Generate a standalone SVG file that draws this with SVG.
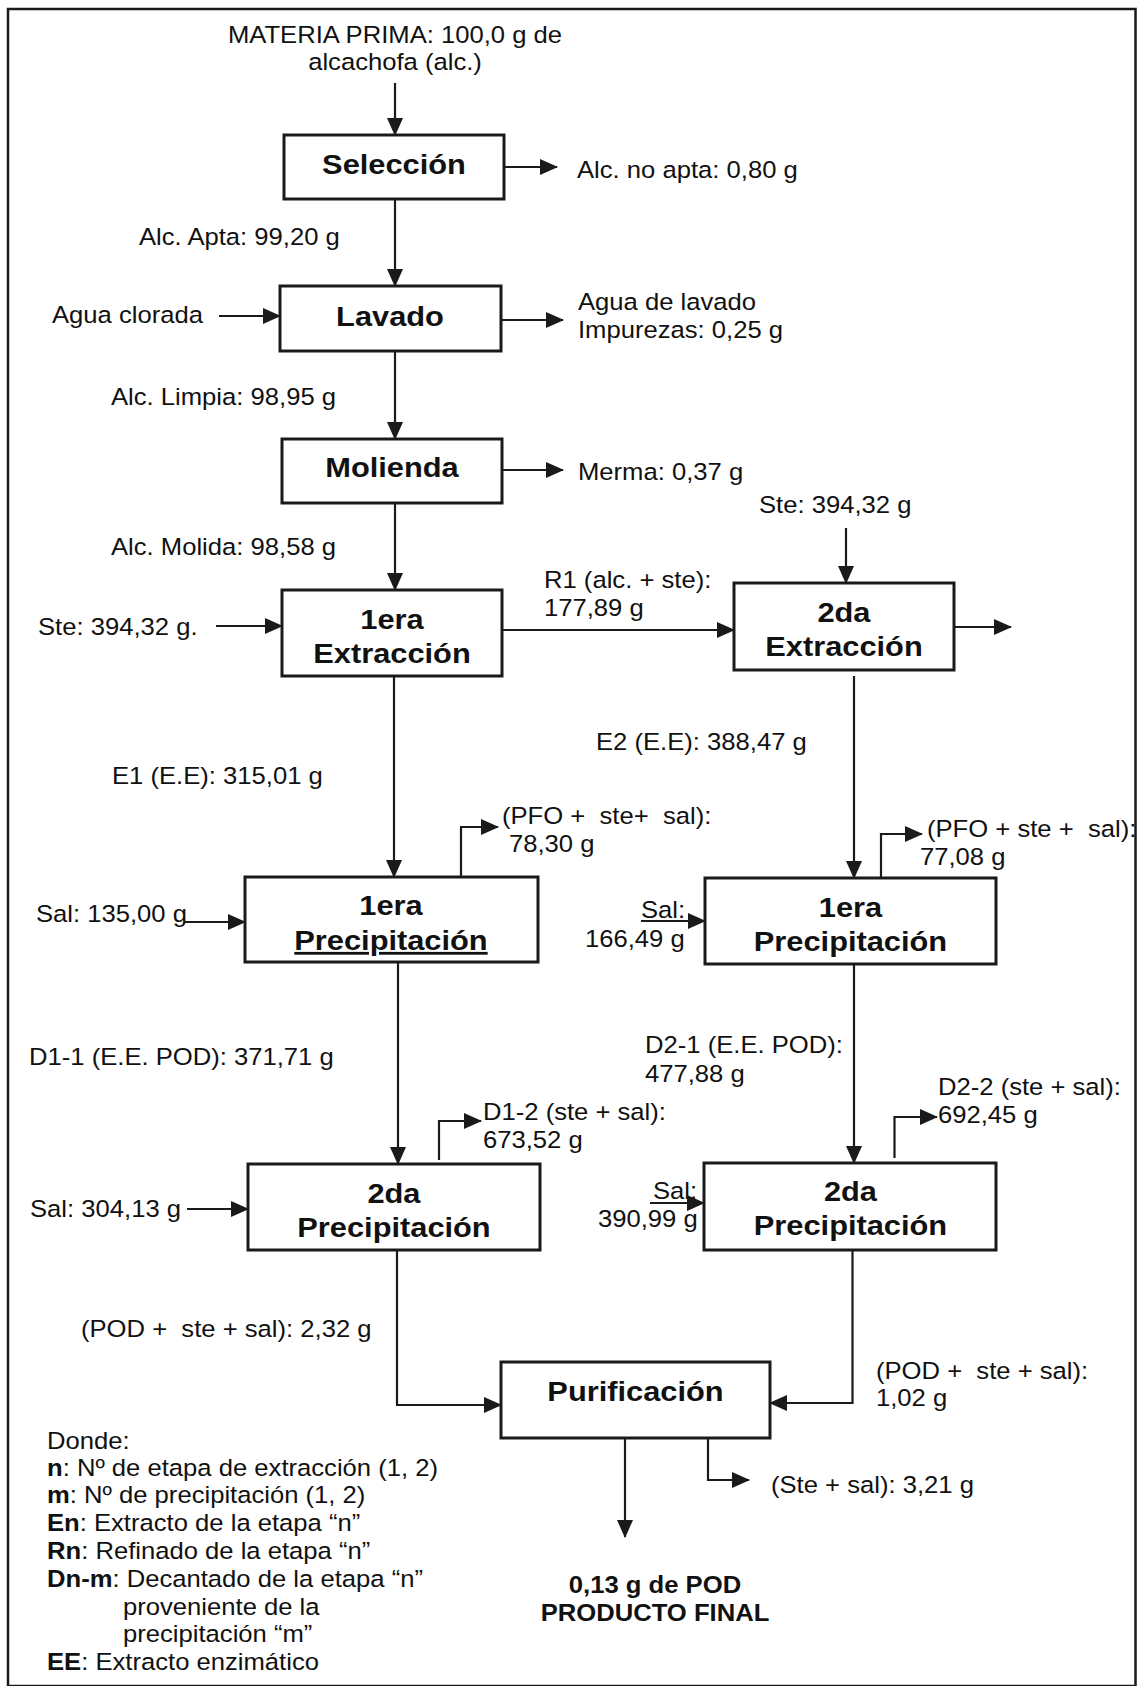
<svg xmlns="http://www.w3.org/2000/svg" width="1139" height="1686" viewBox="0 0 1139 1686">
<style>
.t{font-family:"Liberation Sans",Arial,Helvetica,sans-serif;font-size:23.3px;fill:#111;white-space:pre;transform:scaleX(1.1);transform-box:fill-box;transform-origin:0 0}
.c{text-anchor:middle;transform-origin:50% 0}
.b{font-weight:bold}
.n{font-size:28px}
.u{text-decoration:underline}
.box{fill:#fff;stroke:#1a1a1a;stroke-width:3}
.ln{fill:none;stroke:#1a1a1a;stroke-width:2.2}
.ar{marker-end:url(#ah)}
</style>
<defs>
<marker id="ah" markerUnits="userSpaceOnUse" markerWidth="18" markerHeight="16" viewBox="0 0 18 16" refX="17" refY="8" orient="auto"><path d="M0,0 L18,8 L0,16 z" fill="#1a1a1a"/></marker>
</defs>
<rect width="1139" height="1686" fill="#fff"/>
<rect id="frame" x="8" y="9" width="1127.5" height="1677" fill="none" stroke="#1a1a1a" stroke-width="2.5"/>

<g id="connectors">
<path class="ln ar" d="M395,83 V135"/>
<path class="ln ar" d="M395,199 V286"/>
<path class="ln ar" d="M504,167 H557"/>
<path class="ln ar" d="M219,316 H280"/>
<path class="ln ar" d="M501,320 H563"/>
<path class="ln ar" d="M395,351 V439"/>
<path class="ln ar" d="M502,470 H563"/>
<path class="ln ar" d="M395,503 V590"/>
<path class="ln ar" d="M216,626 H282"/>
<path class="ln ar" d="M502,630 H734"/>
<path class="ln ar" d="M846,528 V583"/>
<path class="ln ar" d="M953,627 H1011"/>
<path class="ln ar" d="M854,676 V878"/>
<path class="ln ar" d="M394,676 V877"/>
<path class="ln ar" d="M184,922 H245"/>
<path class="ln ar" d="M461,877 V827 H498"/>
<path class="ln ar" d="M641,921 H705"/>
<path class="ln ar" d="M881,878 V834 H922"/>
<path class="ln ar" d="M398,962 V1164"/>
<path class="ln ar" d="M854,964 V1163"/>
<path class="ln ar" d="M439,1160 V1121 H481"/>
<path class="ln ar" d="M894.5,1158 V1117 H937"/>
<path class="ln ar" d="M187,1209 H248"/>
<path class="ln ar" d="M650,1203 H704"/>
<path class="ln ar" d="M397,1250 V1405 H501"/>
<path class="ln ar" d="M852.5,1250 V1403 H770"/>
<path class="ln ar" d="M625,1438 V1537"/>
<path class="ln ar" d="M708,1438 V1480 H749"/>
</g>

<g id="n-seleccion"><rect class="box" x="284" y="135" width="220" height="64"/><text class="t c b n" x="394" y="174">Selección</text></g>
<g id="n-lavado"><rect class="box" x="280" y="286" width="221" height="65"/><text class="t c b n" x="390" y="326">Lavado</text></g>
<g id="n-molienda"><rect class="box" x="282" y="439" width="220" height="64"/><text class="t c b n" x="392" y="477">Molienda</text></g>
<g id="n-ext1"><rect class="box" x="282" y="590" width="220" height="86"/><text class="t c b n" x="392" y="629">1era</text><text class="t c b n" x="392" y="663">Extracción</text></g>
<g id="n-ext2"><rect class="box" x="734" y="583" width="220" height="87"/><text class="t c b n" x="844" y="622">2da</text><text class="t c b n" x="844" y="656">Extracción</text></g>
<g id="n-prec11"><rect class="box" x="245" y="877" width="293" height="85"/><text class="t c b n" x="391" y="915">1era</text><text class="t c b n u" x="391" y="950">Precipitación</text></g>
<g id="n-prec21"><rect class="box" x="705" y="878" width="291" height="86"/><text class="t c b n" x="850.5" y="917">1era</text><text class="t c b n" x="850.5" y="951">Precipitación</text></g>
<g id="n-prec12"><rect class="box" x="248" y="1164" width="292" height="86"/><text class="t c b n" x="394" y="1203">2da</text><text class="t c b n" x="394" y="1237">Precipitación</text></g>
<g id="n-prec22"><rect class="box" x="704" y="1163" width="292" height="87"/><text class="t c b n" x="850.5" y="1201">2da</text><text class="t c b n" x="850.5" y="1235">Precipitación</text></g>
<g id="n-purif"><rect class="box" x="501" y="1362" width="269" height="76"/><text class="t c b n" x="635.5" y="1401">Purificación</text></g>

<g id="labels">
<text class="t c" x="395" y="43">MATERIA PRIMA: 100,0 g de</text>
<text class="t c" x="395" y="70">alcachofa (alc.)</text>
<text class="t" x="577" y="178">Alc. no apta: 0,80 g</text>
<text class="t" x="139" y="245">Alc. Apta: 99,20 g</text>
<text class="t" x="52" y="323">Agua clorada</text>
<text class="t" x="578" y="310">Agua de lavado</text>
<text class="t" x="578" y="338">Impurezas: 0,25 g</text>
<text class="t" x="111" y="405">Alc. Limpia: 98,95 g</text>
<text class="t" x="578" y="480">Merma: 0,37 g</text>
<text class="t" x="759" y="513">Ste: 394,32 g</text>
<text class="t" x="111" y="555">Alc. Molida: 98,58 g</text>
<text class="t" x="544" y="588">R1 (alc. + ste):</text>
<text class="t" x="544" y="616">177,89 g</text>
<text class="t" x="38" y="635">Ste: 394,32 g.</text>
<text class="t" x="596" y="750">E2 (E.E): 388,47 g</text>
<text class="t" x="112" y="784">E1 (E.E): 315,01 g</text>
<text class="t" x="502" y="824" xml:space="preserve">(PFO +  ste+  sal):</text>
<text class="t" x="509" y="852">78,30 g</text>
<text class="t" x="927" y="837" xml:space="preserve">(PFO + ste +  sal):</text>
<text class="t" x="920" y="865">77,08 g</text>
<text class="t" x="36" y="922">Sal: 135,00 g</text>
<text class="t" x="641" y="918">Sal:</text>
<text class="t" x="585" y="947">166,49 g</text>
<text class="t" x="29" y="1065">D1-1 (E.E. POD): 371,71 g</text>
<text class="t" x="645" y="1053">D2-1 (E.E. POD):</text>
<text class="t" x="645" y="1082">477,88 g</text>
<text class="t" x="483" y="1120">D1-2 (ste + sal):</text>
<text class="t" x="483" y="1148">673,52 g</text>
<text class="t" x="938" y="1095">D2-2 (ste + sal):</text>
<text class="t" x="938" y="1123">692,45 g</text>
<text class="t" x="30" y="1217">Sal: 304,13 g</text>
<text class="t" x="653" y="1199">Sal:</text>
<text class="t" x="598" y="1227">390,99 g</text>
<text class="t" x="81" y="1337" xml:space="preserve">(POD +  ste + sal): 2,32 g</text>
<text class="t" x="876" y="1379" xml:space="preserve">(POD +  ste + sal):</text>
<text class="t" x="876" y="1406">1,02 g</text>
<text class="t" x="771" y="1493">(Ste + sal): 3,21 g</text>
<text class="t c b" x="655" y="1593">0,13 g de POD</text>
<text class="t c b" x="655" y="1621">PRODUCTO FINAL</text>
</g>

<g id="legend">
<text class="t" x="47" y="1449">Donde:</text>
<text class="t" x="47" y="1476"><tspan class="b">n</tspan>: Nº de etapa de extracción (1, 2)</text>
<text class="t" x="47" y="1503"><tspan class="b">m</tspan>: Nº de precipitación (1, 2)</text>
<text class="t" x="47" y="1531"><tspan class="b">En</tspan>: Extracto de la etapa “n”</text>
<text class="t" x="47" y="1559"><tspan class="b">Rn</tspan>: Refinado de la etapa “n”</text>
<text class="t" x="47" y="1587"><tspan class="b">Dn-m</tspan>: Decantado de la etapa “n”</text>
<text class="t" x="123" y="1615">proveniente de la</text>
<text class="t" x="123" y="1642">precipitación “m”</text>
<text class="t" x="47" y="1670"><tspan class="b">EE</tspan>: Extracto enzimático</text>
</g>
</svg>
